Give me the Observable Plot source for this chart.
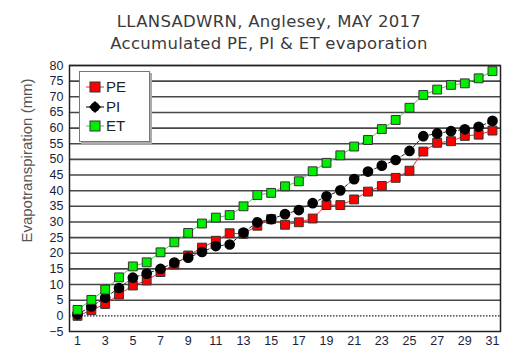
<!DOCTYPE html>
<html>
<head>
<meta charset="utf-8">
<script src="https://cdn.jsdelivr.net/npm/d3@7"></script>
<script src="https://cdn.jsdelivr.net/npm/@observablehq/plot@0.6"></script>
<style>
  html, body { margin: 0; padding: 0; background: #fff; }
  #wrap { position: relative; width: 521px; height: 356px; overflow: hidden; }
  #title { position: absolute; left: 0; width: 538px; top: 11px; text-align: center;
    font-family: "DejaVu Sans", Verdana, sans-serif; font-size: 16.5px; letter-spacing: 0.3px; line-height: 22px; color: #3a3a3a; }
  #legend { position: absolute; left: 79px; top: 71px; width: 69px; height: 69px; background: #fff;
    border: 1px solid #777; box-shadow: 2px 2px 0 #aaa; font-family: "Liberation Sans", Arial, sans-serif;
    font-size: 15px; color: #222; }
  #legend .row { position: absolute; left: 0; height: 18px; line-height: 18px; }
  #legend svg { position: absolute; left: 6px; top: 1px; }
  #legend span { position: absolute; left: 26px; top: 0; }
</style>
</head>
<body>
<div id="wrap">
  <div id="title">LLANSADWRN, Anglesey, MAY 2017<br>Accumulated PE, PI &amp; ET evaporation</div>
  <div id="chart"></div>
  <div id="legend"></div>
</div>
<script>
const days = d3.range(1, 32);
const pe = [0, 1.8, 3.8, 6.8, 9.7, 11.3, 14, 16.4, 19.3, 21.8, 24, 26.4, 26.2, 28.8, 30.9, 29.1, 29.9, 31.1, 35.4, 35.4, 37.2, 39.7, 41.5, 44.1, 46.4, 52.5, 55.3, 55.8, 57.5, 57.9, 59.2];
const pi = [0.5, 3.0, 5.8, 8.9, 12.2, 13.5, 15, 17, 18.6, 20.4, 22.3, 22.8, 26.6, 29.9, 30.9, 32.5, 33.8, 36, 38.2, 40.1, 43.7, 46.1, 48, 49.8, 52.7, 57.4, 58.3, 59, 59.6, 60.4, 62.3];
const et = [1.9, 5.1, 8.4, 12.3, 15.8, 17.1, 20.3, 23.5, 26.5, 29.5, 31.4, 32.2, 35, 38.6, 39.3, 41.4, 43, 46.2, 48.9, 51.3, 54.1, 56.2, 59.7, 62.6, 66.5, 70.6, 72.3, 73.8, 74.3, 75.9, 78.2];
const yTicks = d3.range(-5, 81, 5);
const xTicks = d3.range(1, 32, 2);
const seriesNames = ["PE", "PI", "ET"];

const mk = (arr) => days.map((d, i) => ({day: d, v: arr[i]}));
const dPE = mk(pe), dPI = mk(pi), dET = mk(et);

const chart = Plot.plot({
  width: 521,
  height: 356,
  marginTop: 65,
  marginBottom: 25,
  marginLeft: 69,
  marginRight: 21,
  style: {fontFamily: "'Liberation Sans', Arial, sans-serif", fontSize: "12.5px", color: "#1d1d3a", background: "#fff"},
  x: {domain: [0.42, 31.58], ticks: xTicks, tickSize: 0, tickPadding: 5, label: null, tickFormat: d => d},
  y: {domain: [-5, 80], ticks: yTicks, tickSize: 0, tickPadding: 6, label: null},
  marks: [
    Plot.ruleY(yTicks.filter(t => t > -5 && t !== 0), {stroke: "#333", strokeWidth: 1.6, strokeOpacity: 0.9}),
    Plot.ruleY([0], {stroke: "#222", strokeWidth: 1.2, strokeDasharray: "1.5,1.5"}),
    Plot.frame({stroke: "#222", strokeWidth: 1.5}),
    Plot.line(dPE, {x: "day", y: "v", stroke: "#ff2020", strokeWidth: 1}),
    Plot.dot(dPE, {x: "day", y: "v", symbol: "square", r: 5, fill: "#ff0000", stroke: "#333", strokeWidth: 1}),
    Plot.line(dPI, {x: "day", y: "v", stroke: "#222", strokeWidth: 1, strokeDasharray: "3,2"}),
    Plot.dot(dPI, {x: "day", y: "v", symbol: "circle", r: 4.6, fill: "#000", stroke: "#000"}),
    Plot.line(dET, {x: "day", y: "v", stroke: "#44cc44", strokeWidth: 1}),
    Plot.dot(dET, {x: "day", y: "v", symbol: "square", r: 5, fill: "#00ee00", stroke: "#333", strokeWidth: 1}),
    Plot.text(["Evapotranspiration (mm)"], {frameAnchor: "left", dx: -42, dy: -38, rotate: -90, text: d => d,
      fontSize: 15, fill: "#555", textAnchor: "middle"})
  ]
});
document.getElementById("chart").appendChild(chart);

// legend
const legend = document.getElementById("legend");
const styles = [
  {fill: "#ff0000", line: "#ff2020", shape: "square"},
  {fill: "#000", line: "#000", shape: "diamond"},
  {fill: "#00ee00", line: "#44cc44", shape: "square"}
];
seriesNames.forEach((name, i) => {
  const row = document.createElement("div");
  row.className = "row";
  row.style.top = (6 + i * 19.5) + "px";
  row.style.width = "69px";
  const s = styles[i];
  const shape = s.shape === "square"
    ? `<rect x="4" y="3" width="10" height="10" fill="${s.fill}" stroke="#333" stroke-width="1"/>`
    : `<polygon points="9,2 15,8 9,14 3,8" fill="#000"/><circle cx="9" cy="8" r="4.5" fill="#000"/>`;
  row.innerHTML = `<svg width="18" height="16"><line x1="0" x2="18" y1="8" y2="8" stroke="${s.line}" stroke-width="1"/>${shape}</svg><span>${name}</span>`;
  legend.appendChild(row);
});
</script>
</body>
</html>
